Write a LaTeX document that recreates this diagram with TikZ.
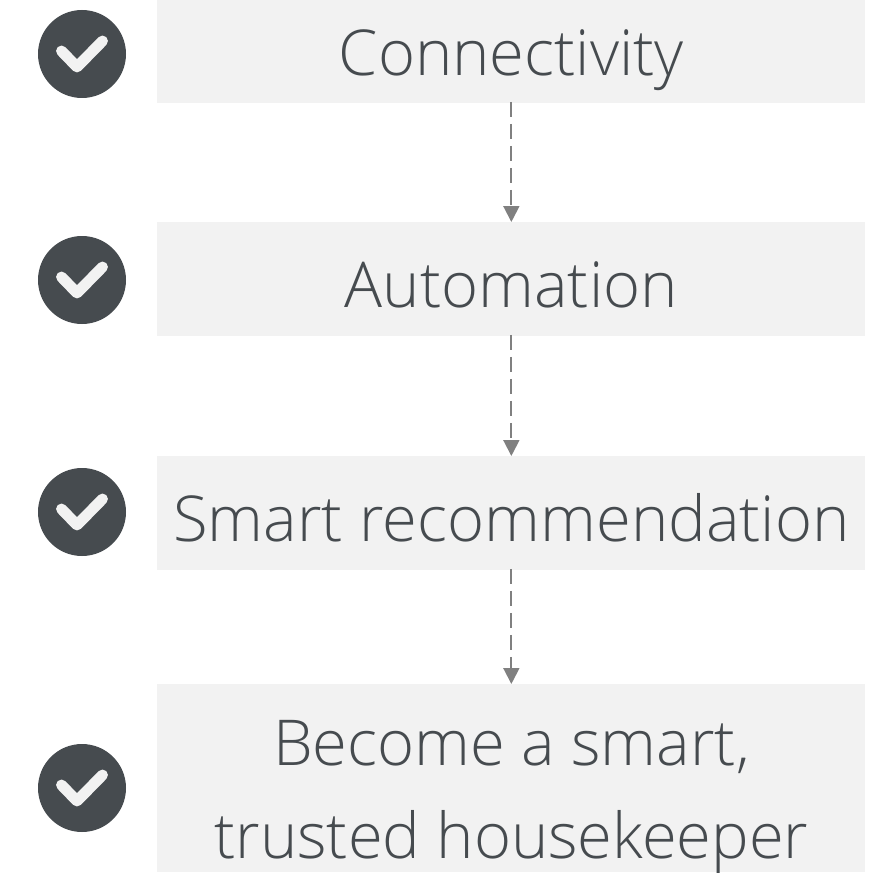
\documentclass[tikz,border=0pt]{standalone}
\usepackage{fontspec}
\setmainfont{Open Sans Light}
\usetikzlibrary{arrows.meta}
\definecolor{darkslate}{HTML}{464B4F}
\definecolor{boxgray}{HTML}{F2F2F2}
\definecolor{flowgray}{HTML}{808080}
\tikzset{
	stagebox/.style={fill=boxgray, anchor=north west, inner sep=0pt, text width=14.16cm, align=flush center,
		text=darkslate, font=\fontsize{36}{53}\selectfont},
	checkdot/.style={circle, fill=darkslate, minimum size=1.76cm, inner sep=0pt},
	flowline/.style={draw=flowgray, line width=1.1pt, dash pattern=on 8.5pt off 4pt, -{Triangle[length=9pt,width=9pt,sep=0pt]}, shorten <=-1pt},
}
\newcommand{\ticksign}[1]{\draw [boxgray, line width=6.2pt, line cap=round, line join=round] ([shift={(-0.41,0.06)}]#1.center) -- ([shift={(-0.10,-0.26)}]#1.center) -- ([shift={(0.41,0.26)}]#1.center);}
\begin{document}
\begin{tikzpicture}
	\useasboundingbox (0,0) rectangle (17.7,-17.44);

	\node [stagebox, text height=1.5cm, text depth=0.56cm] (connect) at (3.14,0) {Connectivity};
	\node [stagebox, text height=1.7cm, text depth=0.58cm] (automate) at (3.14,-4.44) {Automation};
	\node [stagebox, text height=1.7cm, text depth=0.58cm] (recommend) at (3.14,-9.12) {Smart recommendation};
	\node [stagebox, text height=1.62cm, text depth=2.14cm] (keeper) at (3.14,-13.68) {Become a smart,\\trusted housekeeper};

	\node [checkdot] (dot1) at (1.64,-1.08) {};
	\node [checkdot] (dot2) at (1.64,-5.6) {};
	\node [checkdot] (dot3) at (1.64,-10.24) {};
	\node [checkdot] (dot4) at (1.64,-15.76) {};

	\ticksign{dot1}
	\ticksign{dot2}
	\ticksign{dot3}
	\ticksign{dot4}

	\draw [flowline] (connect) -- (automate);
	\draw [flowline] (automate) -- (recommend);
	\draw [flowline] (recommend) -- (keeper);
\end{tikzpicture}
\end{document}
